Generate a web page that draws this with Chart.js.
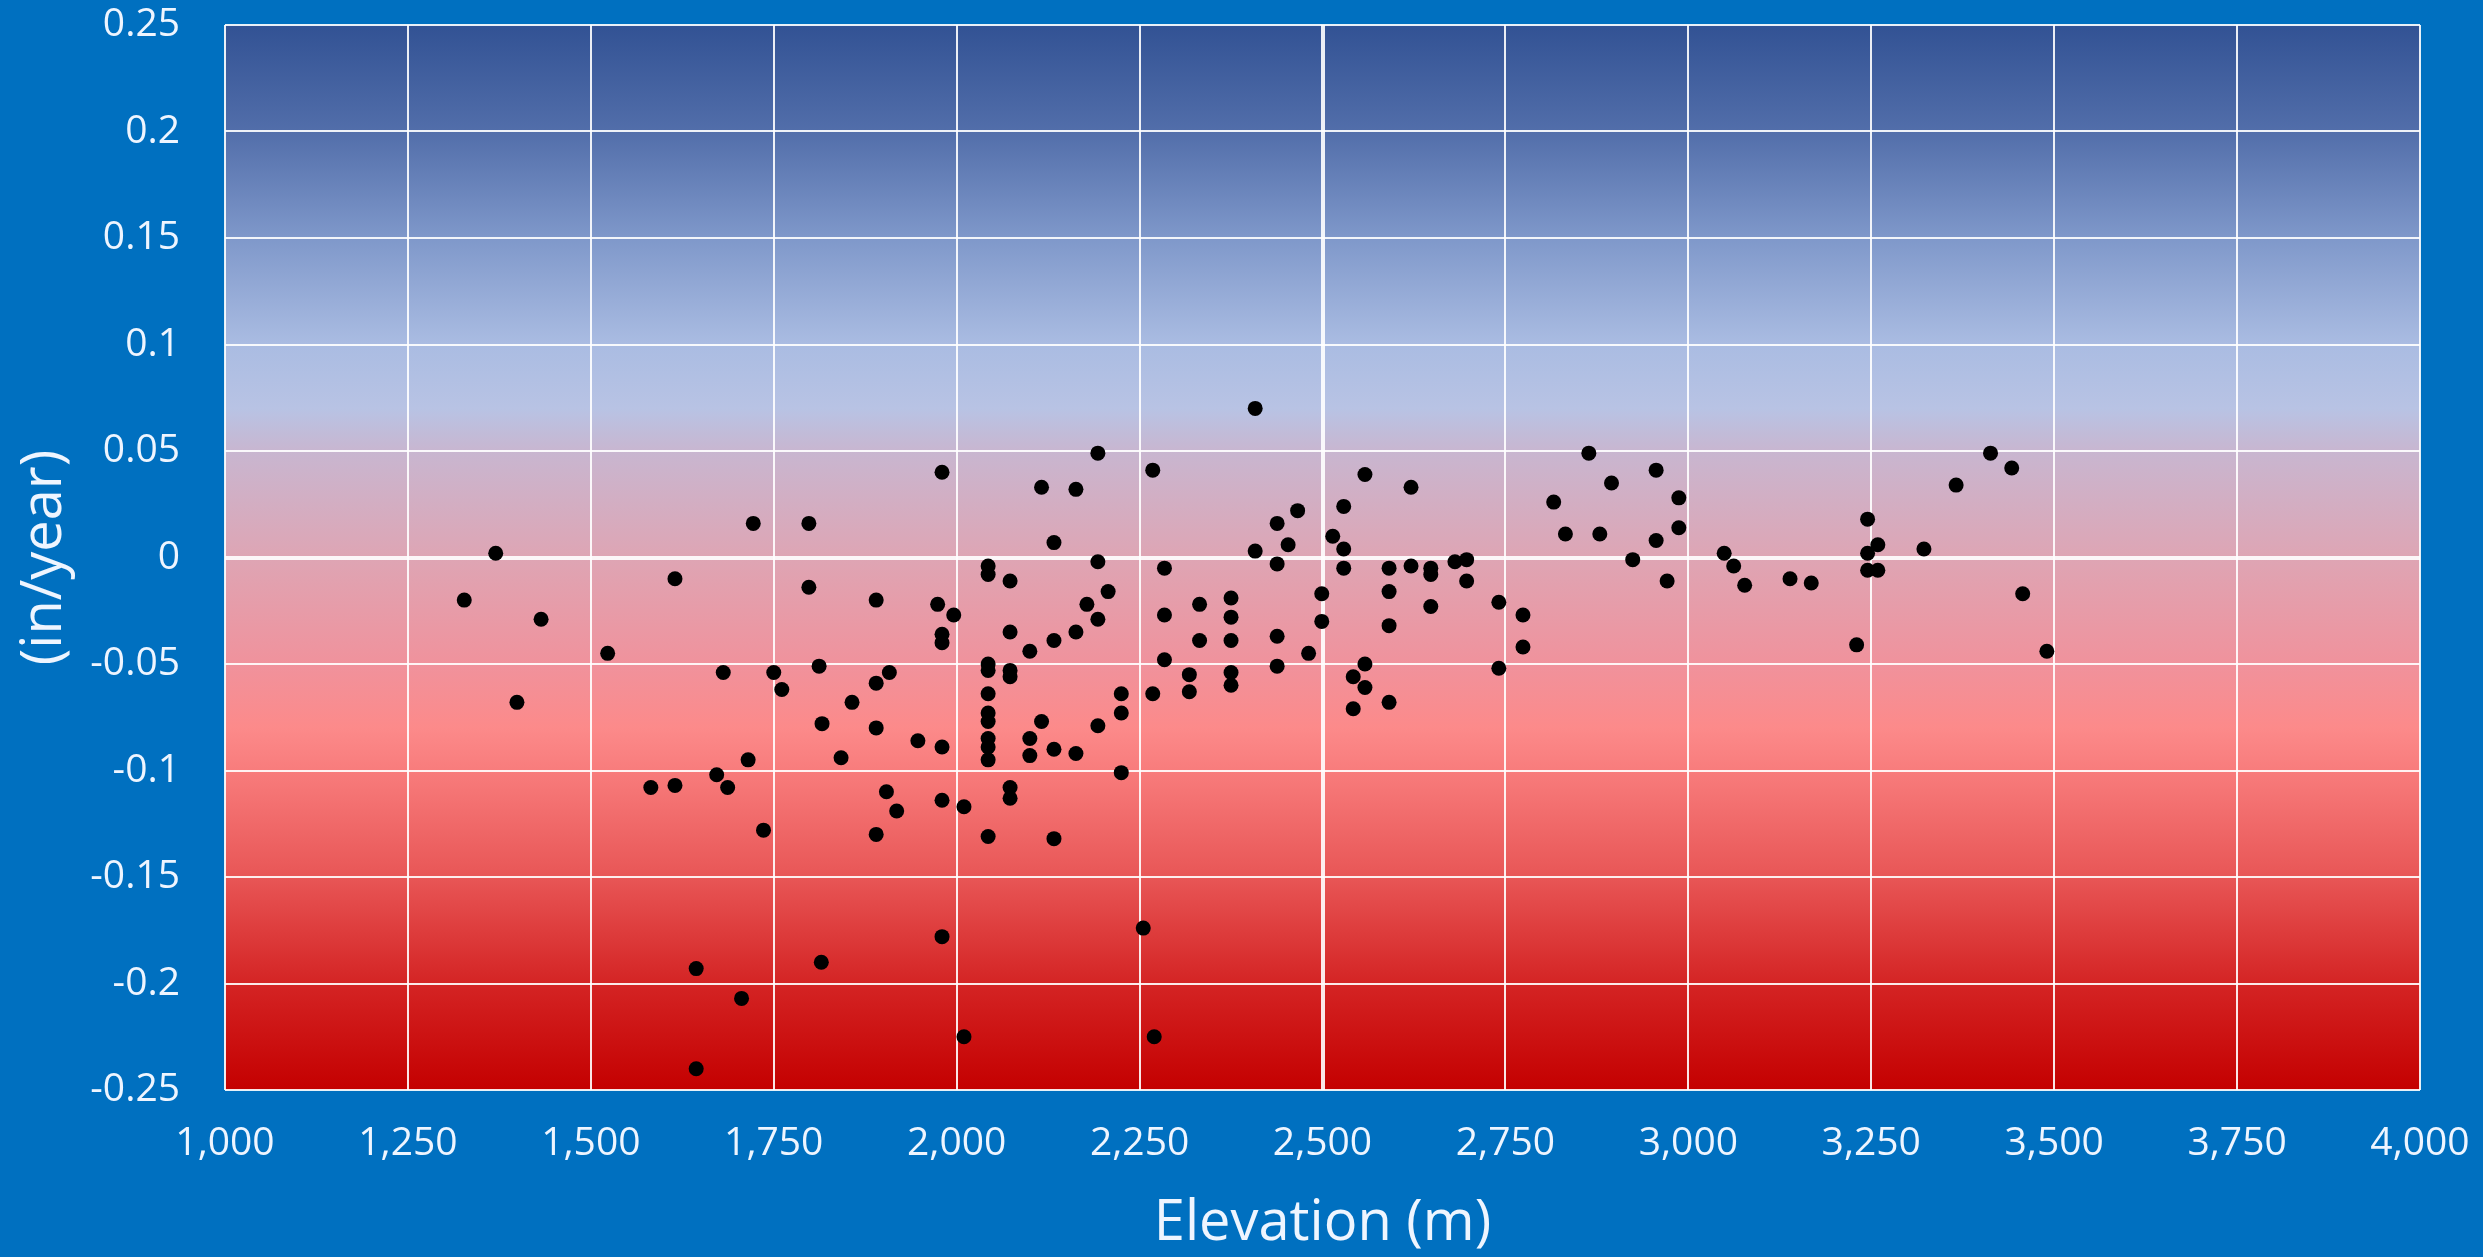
<!DOCTYPE html>
<html>
<head>
<meta charset="utf-8">
<script src="https://cdn.jsdelivr.net/npm/chart.js@4.4.1/dist/chart.umd.min.js"></script>
<style>
  html, body { margin: 0; padding: 0; background: #0070c0; }
  #wrap { width: 2483px; height: 1257px; }
</style>
</head>
<body>
<div id="wrap"><canvas id="myChart" width="2483" height="1257"></canvas></div>
<script>
// elevation (m) of each station
var elevation = [
  1370, 1327, 1432, 1399, 1523, 1582, 1615, 1615, 1681, 1672,
  1687, 1715, 1722, 1736, 1750, 1761, 1798, 1798, 1812, 1816,
  1842, 1857, 1890, 1890, 1890, 1890, 1908, 1904, 1918, 1947,
  1974, 1996, 1980, 1980, 1980, 1980, 2010, 1980, 2043, 2043,
  2043, 2043, 2043, 2043, 2043, 2043, 2043, 2043, 2043,
  1644, 1706, 1644, 1815, 1980, 2010,
  2073, 2073, 2073, 2073, 2073, 2073, 2100, 2100, 2100, 2116,
  2116, 2133, 2133, 2133, 2133, 2163, 2163, 2163, 2178, 2193,
  2193, 2193, 2193, 2207, 2225, 2225, 2225, 2268, 2268, 2284,
  2284, 2284, 2318, 2318, 2332, 2332, 2375, 2375, 2375, 2375,
  2375, 2408, 2408, 2438, 2438, 2438, 2438, 2453, 2466, 2481,
  2499, 2499, 2514, 2529, 2529, 2529, 2558, 2558, 2558, 2542,
  2542, 2591, 2591, 2591, 2591, 2621, 2621, 2648, 2648, 2648,
  2681, 2697, 2697, 2741, 2741, 2774, 2774, 2816, 2832, 2864,
  2879, 2895, 2924, 2956, 2956, 2971, 2987, 2987,
  3049, 3062, 3077, 3139, 3168, 3245, 3245, 3245, 3259, 3259,
  3230, 3322, 3366, 3413, 3442, 3457, 3490,
  2255, 2270
];
// trend (in/year), same order as elevation
var rate = [
  0.002, -0.020, -0.029, -0.068, -0.045, -0.108, -0.107, -0.010, -0.054, -0.102,
  -0.108, -0.095, 0.016, -0.128, -0.054, -0.062, 0.016, -0.014, -0.051, -0.078,
  -0.094, -0.068, -0.020, -0.059, -0.080, -0.130, -0.054, -0.110, -0.119, -0.086,
  -0.022, -0.027, -0.036, -0.040, -0.089, -0.114, -0.117, 0.040, -0.004, -0.008,
  -0.050, -0.053, -0.064, -0.073, -0.077, -0.085, -0.089, -0.095, -0.131,
  -0.193, -0.207, -0.240, -0.190, -0.178, -0.225,
  -0.011, -0.035, -0.053, -0.056, -0.108, -0.113, -0.044, -0.085, -0.093, 0.033,
  -0.077, 0.007, -0.039, -0.090, -0.132, 0.032, -0.035, -0.092, -0.022, 0.049,
  -0.002, -0.029, -0.079, -0.016, -0.064, -0.073, -0.101, 0.041, -0.064, -0.005,
  -0.027, -0.048, -0.055, -0.063, -0.022, -0.039, -0.019, -0.028, -0.039, -0.054,
  -0.060, 0.070, 0.003, 0.016, -0.003, -0.037, -0.051, 0.006, 0.022, -0.045,
  -0.017, -0.030, 0.010, 0.024, 0.004, -0.005, 0.039, -0.050, -0.061, -0.056,
  -0.071, -0.005, -0.016, -0.032, -0.068, 0.033, -0.004, -0.005, -0.008, -0.023,
  -0.002, -0.001, -0.011, -0.021, -0.052, -0.027, -0.042, 0.026, 0.011, 0.049,
  0.011, 0.035, -0.001, 0.041, 0.008, -0.011, 0.028, 0.014,
  0.002, -0.004, -0.013, -0.010, -0.012, 0.018, 0.002, -0.006, 0.006, -0.006,
  -0.041, 0.004, 0.034, 0.049, 0.042, -0.017, -0.044,
  -0.174, -0.225
];

var xTickLabels = ["1,000", "1,250", "1,500", "1,750", "2,000", "2,250", "2,500",
  "2,750", "3,000", "3,250", "3,500", "3,750", "4,000"];
var yTickLabels = ["-0.25", "-0.2", "-0.15", "-0.1", "-0.05", "0", "0.05",
  "0.1", "0.15", "0.2", "0.25"];

var points = [];
for (var i = 0; i < elevation.length; i++) {
  points.push({ x: elevation[i], y: rate[i] });
}

// plot area fill, blue on top fading into red at the bottom
var bgPlugin = {
  id: "bgPlugin",
  beforeDraw: function (chart) {
    var c = chart.ctx;
    var area = chart.chartArea;
    var ys = chart.scales.y;
    c.save();
    c.fillStyle = "#0070c0";
    c.fillRect(0, 0, chart.width, chart.height);
    var grad = c.createLinearGradient(0, area.top, 0, area.bottom);
    var stops = [
      [0.25, "rgb(50,82,148)"],
      [0.2, "rgb(82,110,170)"],
      [0.15, "rgb(127,152,202)"],
      [0.1, "rgb(170,188,226)"],
      [0.07, "rgb(184,195,228)"],
      [0.05, "rgb(200,182,208)"],
      [0, "rgb(222,165,180)"],
      [-0.05, "rgb(240,146,156)"],
      [-0.08, "rgb(252,138,138)"],
      [-0.1, "rgb(248,124,124)"],
      [-0.15, "rgb(232,86,86)"],
      [-0.2, "rgb(212,36,36)"],
      [-0.25, "rgb(196,0,0)"]
    ];
    stops.forEach(function (s) {
      var p = (ys.getPixelForValue(s[0]) - area.top) / (area.bottom - area.top);
      grad.addColorStop(Math.min(1, Math.max(0, p)), s[1]);
    });
    c.fillStyle = grad;
    c.fillRect(area.left, area.top, area.right - area.left, area.bottom - area.top);
    c.restore();
  }
};

var ctx = document.getElementById("myChart");
var myChart = new Chart(ctx, {
  type: "scatter",
  data: {
    datasets: [
      {
        data: points,
        backgroundColor: "#000000",
        borderColor: "#000000",
        pointRadius: 7.5,
        pointHoverRadius: 7.5,
        borderWidth: 0
      }
    ]
  },
  options: {
    responsive: false,
    animation: false,
    devicePixelRatio: 1,
    layout: { padding: { top: 25, right: 63, left: 0, bottom: 0 } },
    plugins: {
      legend: { display: false },
      tooltip: { enabled: false }
    },
    scales: {
      x: {
        type: "linear",
        min: 1000,
        max: 4000,
        border: { display: false },
        grid: {
          drawTicks: false,
          color: "rgba(255,255,255,0.9)",
          lineWidth: function (c) {
            return c.tick && c.tick.value === 2500 ? 4 : 2;
          }
        },
        ticks: {
          stepSize: 250,
          padding: 30,
          color: "#eef5ff",
          font: { family: "Open Sans", size: 39 },
          maxRotation: 0,
          callback: function (value, index) {
            return xTickLabels[index];
          }
        },
        title: {
          display: true,
          text: "Elevation (m)",
          color: "#eef5ff",
          font: { family: "Open Sans", size: 56, lineHeight: 1.1 },
          padding: { top: 0, bottom: 2 }
        },
        afterFit: function (scale) {
          scale.height = 167;
          scale.paddingLeft = 0;
          scale.paddingRight = 0;
        }
      },
      y: {
        type: "linear",
        min: -0.25,
        max: 0.25,
        border: { display: false },
        grid: {
          drawTicks: false,
          color: "rgba(255,255,255,0.9)",
          lineWidth: function (c) {
            return c.tick && Math.abs(c.tick.value) < 1e-9 ? 4 : 2;
          }
        },
        ticks: {
          stepSize: 0.05,
          padding: 45,
          color: "#eef5ff",
          font: { family: "Open Sans", size: 39 },
          callback: function (value, index) {
            return yTickLabels[index];
          }
        },
        title: {
          display: true,
          text: "(in/year)",
          color: "#eef5ff",
          font: { family: "Open Sans", size: 56, lineHeight: 1.1 },
          padding: { top: 14, bottom: 0 }
        },
        afterFit: function (scale) {
          scale.width = 225;
          scale.paddingTop = 0;
          scale.paddingBottom = 0;
        }
      }
    }
  },
  plugins: [bgPlugin]
});
console.log(myChart.chartArea);
</script>
</body>
</html>
